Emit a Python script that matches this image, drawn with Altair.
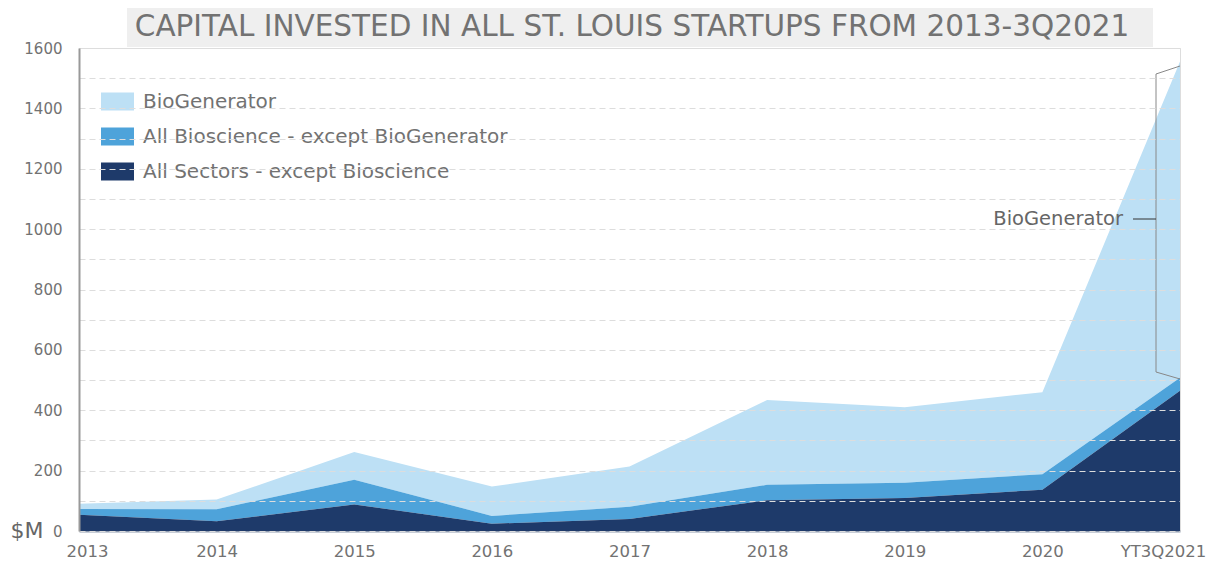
import altair as alt
import pandas as pd

periods = ["2013", "2014", "2015", "2016", "2017", "2018", "2019", "2020", "YT3Q2021"]
sectors = [54, 32, 88, 24, 40, 102, 109, 137, 465]
bioscience = [19, 40, 82, 26, 40, 51, 51, 51, 43]
biogenerator = [17, 32, 92, 97, 134, 281, 250, 272, 1047]

series_names = ["BioGenerator", "All Bioscience - except BioGenerator", "All Sectors - except Bioscience"]
series_values = [biogenerator, bioscience, sectors]
stack_rank = [2, 1, 0]
colors = ["#bde0f5", "#4ea3da", "#1e3a6a"]
y_ticks = list(range(0, 1700, 100))
title_text = "CAPITAL INVESTED IN ALL ST. LOUIS STARTUPS FROM 2013-3Q2021"

rows = []
for name, vals, rank in zip(series_names, series_values, stack_rank):
    for p, v in zip(periods, vals):
        rows.append({"period": p, "series": name, "value": v, "rank": rank})
df = pd.DataFrame(rows)

W, H = 1101, 483
FONT = "DejaVu Sans"
GREY = "#727272"

areas = alt.Chart(df).mark_area(opacity=1).encode(
    x=alt.X("period:N", sort=periods,
            scale=alt.Scale(type="point", padding=0),
            axis=alt.Axis(title=None, labelAngle=0, ticks=False, grid=False,
                          domainColor="#8f9bb0", domainWidth=2,
                          labelFontSize=16.5, labelColor=GREY, labelFont=FONT,
                          labelPadding=12,
                          labelOffset={"condition": [
                              {"test": "datum.label == '2013'", "value": 8},
                              {"test": "datum.label == 'YT3Q2021'", "value": -17}],
                              "value": 0})),
    y=alt.Y("value:Q", stack="zero",
            scale=alt.Scale(domain=[0, 1600], nice=False),
            axis=alt.Axis(title=None, values=y_ticks, format="d",
                          labelExpr="datum.value % 200 === 0 ? datum.label : ''",
                          ticks=False, grid=True, gridDash=[6, 4], gridColor="#dddddd",
                          domainColor="#999999", domainWidth=2,
                          labelFontSize=15, labelColor=GREY, labelFont=FONT,
                          labelPadding=17, zindex=1)),
    color=alt.Color("series:N",
                    scale=alt.Scale(domain=series_names, range=colors),
                    legend=alt.Legend(title=None, orient="none", legendX=22, legendY=37,
                                      symbolType="M-1,-0.55H1V0.55H-1Z", symbolSize=1089,
                                      symbolStrokeWidth=0, symbolOpacity=1,
                                      labelFontSize=20, labelColor=GREY, labelFont=FONT,
                                      labelLimit=500, labelOffset=9, rowPadding=8)),
    order=alt.Order("rank:Q", sort="ascending"),
)

one = alt.Data(values=[{"a": 1}])

title_box = alt.Chart(one).mark_rect(color="#efefef").encode(
    x=alt.value(48), x2=alt.value(1074), y=alt.value(-43), y2=alt.value(-1))
title = alt.Chart(one).mark_text(text=title_text, fontSize=29.5, font=FONT, color=GREY,
                                 align="center", baseline="middle").encode(
    x=alt.value(553), y=alt.value(-21))

money = alt.Chart(one).mark_text(text="$M", fontSize=22, font=FONT, color="#666666",
                                 align="center", baseline="middle").encode(
    x=alt.value(-52), y=alt.value(H))

bracket_v = alt.Chart(one).mark_rule(color="#888888", strokeWidth=1).encode(
    x=alt.value(1077), x2=alt.value(1077), y=alt.value(26), y2=alt.value(324))
bracket_t = alt.Chart(one).mark_rule(color="#888888", strokeWidth=1).encode(
    x=alt.value(1077), x2=alt.value(1101), y=alt.value(26), y2=alt.value(18))
bracket_b = alt.Chart(one).mark_rule(color="#888888", strokeWidth=1).encode(
    x=alt.value(1077), x2=alt.value(1101), y=alt.value(324), y2=alt.value(331))
bracket_h = alt.Chart(one).mark_rule(color="#333333", strokeWidth=1).encode(
    x=alt.value(1054), x2=alt.value(1077), y=alt.value(171), y2=alt.value(171))
bracket_label = alt.Chart(one).mark_text(text="BioGenerator", fontSize=19.5, font=FONT,
                                         color="#666666", align="right",
                                         baseline="middle").encode(
    x=alt.value(1044), y=alt.value(171))

chart = alt.layer(areas, title_box, title, money, bracket_v, bracket_t, bracket_b,
                  bracket_h, bracket_label).properties(
    width=W, height=H,
    autosize=alt.AutoSizeParams(type="none"),
    padding={"left": 71, "top": 40, "right": 27, "bottom": 31},
).configure_view(stroke=None).configure(background="white")

chart.save("out.html", embed_options={"renderer": "svg", "actions": False})
